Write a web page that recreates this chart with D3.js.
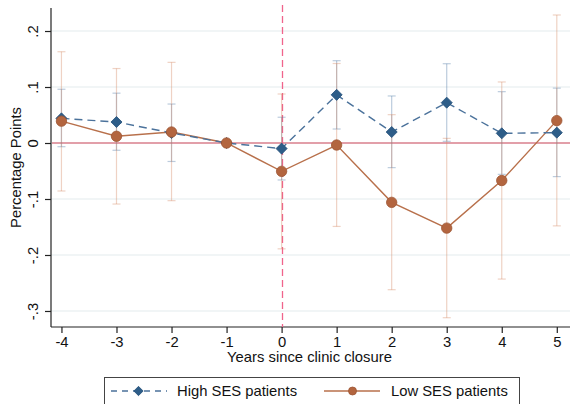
<!DOCTYPE html>
<html>
<head>
<meta charset="utf-8">
<script src="https://cdn.jsdelivr.net/npm/d3@7/dist/d3.min.js"></script>
<style>
  html, body { margin: 0; padding: 0; background: #fff; }
  svg { display: block; font-family: Arial, "Liberation Sans", sans-serif; }
</style>
</head>
<body>
<svg id="chart" width="570" height="404"></svg>
<script>
// Event-study estimates by years since clinic closure
const years = [-4, -3, -2, -1, 0, 1, 2, 3, 4, 5];
const yTicks = [0.2, 0.1, 0, -0.1, -0.2, -0.3];
const yTickLabels = [".2", ".1", "0", "-.1", "-.2", "-.3"];

const highEst   = [0.044, 0.0375, 0.018, 0, -0.010, 0.086, 0.0196, 0.072, 0.0173, 0.0185];
const highLower = [-0.0066, -0.013, -0.033, null, -0.066, 0.025, -0.044, 0.003, -0.056, -0.060];
const highUpper = [0.096, 0.089, 0.0696, null, 0.046, 0.147, 0.084, 0.1416, 0.0917, 0.098];

const lowEst   = [0.039, 0.012, 0.0196, 0, -0.0506, -0.0036, -0.106, -0.152, -0.067, 0.040];
const lowLower = [-0.0857, -0.109, -0.103, null, -0.189, -0.149, -0.262, -0.312, -0.243, -0.148];
const lowUpper = [0.163, 0.133, 0.144, null, 0.0875, 0.142, 0.0506, 0.0083, 0.109, 0.2286];

const seriesNames = ["High SES patients", "Low SES patients"];

const svg = d3.select("#chart");
const plotLeft = 51, plotRight = 570, plotTop = 8, plotBottom = 327;

const x = d3.scaleLinear().domain([-4.19, 5.24]).range([plotLeft, plotRight]);
const y = d3.scaleLinear().domain([-0.3286, 0.2411]).range([plotBottom, plotTop]);
const crisp = v => Math.round(v) + 0.5;

const blue = "#2e5d88", blueLine = "#4b729b";
const brown = "#b3653f", brownLine = "#b8704b";

// horizontal grid lines
svg.append("g").selectAll("line")
  .data(yTicks.filter(d => d !== 0))
  .join("line")
  .attr("x1", plotLeft).attr("x2", plotRight)
  .attr("y1", d => y(d)).attr("y2", d => y(d))
  .attr("stroke", "#e4ecee").attr("stroke-width", 1.2);

// y axis
const yAxis = svg.append("g")
  .attr("transform", `translate(${plotLeft},0)`)
  .call(d3.axisLeft(y).tickValues(yTicks).tickSize(6)
        .tickFormat((d, i) => yTickLabels[i]));
yAxis.select(".domain").attr("stroke", "#222").attr("stroke-width", 1.2)
  .attr("d", `M0,${plotTop}V${plotBottom}`);
yAxis.selectAll(".tick line").attr("stroke", "#222").attr("stroke-width", 1.2);
yAxis.selectAll(".tick text")
  .attr("font-size", "14.8px").attr("fill", "#111")
  .attr("text-anchor", "middle")
  .attr("x", null).attr("dy", null)
  .attr("transform", "translate(-18,0) rotate(-90)")
  .attr("dominant-baseline", "central");

// x axis
const xAxis = svg.append("g")
  .attr("transform", `translate(0,${plotBottom})`)
  .call(d3.axisBottom(x).tickValues(years).tickSize(6).tickFormat(d => String(d)));
xAxis.select(".domain").attr("stroke", "#222").attr("stroke-width", 1.2)
  .attr("d", `M${plotLeft},0H${plotRight}`);
xAxis.selectAll(".tick line").attr("stroke", "#222").attr("stroke-width", 1.2);
xAxis.selectAll(".tick text").attr("font-size", "14.8px").attr("fill", "#111")
  .attr("y", 9);

// axis titles
svg.append("text")
  .attr("x", (plotLeft + plotRight) / 2 - 1).attr("y", 362)
  .attr("text-anchor", "middle").attr("font-size", "14.8px").attr("fill", "#111")
  .text("Years since clinic closure");
svg.append("text")
  .attr("transform", `translate(21,${(plotTop + plotBottom) / 2}) rotate(-90)`)
  .attr("text-anchor", "middle").attr("font-size", "14.8px").attr("fill", "#111")
  .text("Percentage Points");

// reference lines
svg.append("line")
  .attr("x1", plotLeft + 1).attr("x2", plotRight)
  .attr("y1", y(0)).attr("y2", y(0))
  .attr("stroke", "#d97f8d").attr("stroke-width", 1.4);
svg.append("line")
  .attr("x1", crisp(x(0))).attr("x2", crisp(x(0)))
  .attr("y1", plotTop - 3).attr("y2", plotBottom)
  .attr("stroke", "#f0648c").attr("stroke-width", 1.3)
  .attr("stroke-dasharray", "7,4");

// confidence intervals
function drawCI(lo, hi, color) {
  const rows = years.map((yr, i) => ({ yr, lo: lo[i], hi: hi[i] })).filter(d => d.lo !== null);
  const g = svg.append("g").attr("stroke", color).attr("stroke-width", 1.2).attr("stroke-opacity", 0.38);
  g.selectAll(".v").data(rows).join("line")
    .attr("x1", d => x(d.yr)).attr("x2", d => x(d.yr))
    .attr("y1", d => y(d.lo)).attr("y2", d => y(d.hi));
  ["lo", "hi"].forEach(k => {
    g.selectAll(".c" + k).data(rows).join("line")
      .attr("x1", d => x(d.yr) - 4).attr("x2", d => x(d.yr) + 4)
      .attr("y1", d => y(d[k])).attr("y2", d => y(d[k]));
  });
}
drawCI(highLower, highUpper, "#4f78a6");
drawCI(lowLower, lowUpper, "#d48a64");

// connecting lines
const line = d3.line().x(d => x(d[0])).y(d => y(d[1]));
svg.append("path")
  .datum(years.map((yr, i) => [yr, lowEst[i]]))
  .attr("d", line).attr("fill", "none")
  .attr("stroke", brownLine).attr("stroke-width", 1.4);
svg.append("path")
  .datum(years.map((yr, i) => [yr, highEst[i]]))
  .attr("d", line).attr("fill", "none")
  .attr("stroke", blueLine).attr("stroke-width", 1.4)
  .attr("stroke-dasharray", "8,5");

// markers
const diamond = d3.symbol().type(d3.symbolDiamond2).size(78);
svg.append("g").selectAll("path")
  .data(years.map((yr, i) => [yr, highEst[i]]))
  .join("path")
  .attr("d", diamond)
  .attr("transform", d => `translate(${x(d[0])},${y(d[1])})`)
  .attr("fill", blue).attr("stroke", "#24507a").attr("stroke-width", 0.8);
svg.append("g").selectAll("circle")
  .data(years.map((yr, i) => [yr, lowEst[i]]))
  .join("circle")
  .attr("cx", d => x(d[0])).attr("cy", d => y(d[1]))
  .attr("r", 5.2)
  .attr("fill", brown).attr("stroke", "#9d5634").attr("stroke-width", 0.8);

// legend
const lg = svg.append("g");
lg.append("rect")
  .attr("x", 104.5).attr("y", 377.5).attr("width", 415).attr("height", 40)
  .attr("fill", "#fff").attr("stroke", "#444").attr("stroke-width", 1);
lg.append("line").attr("x1", 111).attr("x2", 167).attr("y1", 391).attr("y2", 391)
  .attr("stroke", blueLine).attr("stroke-width", 1.4).attr("stroke-dasharray", "6,5");
lg.append("path").attr("d", d3.symbol().type(d3.symbolDiamond2).size(55))
  .attr("transform", "translate(138.5,391)")
  .attr("fill", blue).attr("stroke", "#24507a").attr("stroke-width", 0.8);
lg.append("text").attr("x", 177).attr("y", 391).attr("dominant-baseline", "central")
  .attr("font-size", "14.8px").attr("fill", "#111").text(seriesNames[0]);
lg.append("line").attr("x1", 324).attr("x2", 380).attr("y1", 391).attr("y2", 391)
  .attr("stroke", brownLine).attr("stroke-width", 1.4);
lg.append("circle").attr("cx", 352.5).attr("cy", 391).attr("r", 4)
  .attr("fill", brown).attr("stroke", "#9d5634").attr("stroke-width", 0.8);
lg.append("text").attr("x", 391).attr("y", 391).attr("dominant-baseline", "central")
  .attr("font-size", "14.8px").attr("fill", "#111").text(seriesNames[1]);
</script>
</body>
</html>
